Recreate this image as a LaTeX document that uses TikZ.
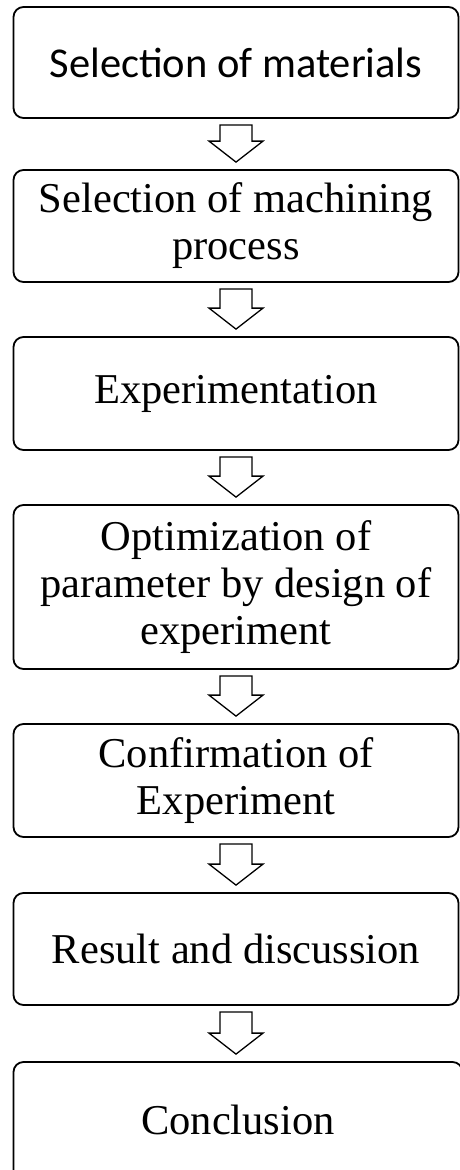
\documentclass[tikz,border=0pt]{standalone}
\usepackage{fontspec}
\setmainfont{Liberation Serif}
\newfontfamily\calibri{Carlito}
\usetikzlibrary{calc}

\tikzset{
  stage/.style={draw, line width=1.8pt, rounded corners=10pt,
    minimum width=445pt, align=center, inner sep=0pt,
    font=\fontsize{42.5}{47}\selectfont},
  hollow/.style={line width=1.3pt, to path={
    let \p1=(\tikztostart), \p2=(\tikztotarget) in
    (\x1-16,\y1) -- (\x1+16,\y1) -- (\x1+16,\y2+21) -- (\x1+27,\y2+21)
    -- (\x1,\y2) -- (\x1-27,\y2+21) -- (\x1-16,\y2+21) -- cycle}}
}

\begin{document}
\begin{tikzpicture}[x=1pt, y=-1pt]
  \useasboundingbox (0,0) rectangle (459,1170);
  \node[stage, minimum height=111pt] (mat)  at (236, 62.5) {\calibri Selection of materials};
  \node[stage, minimum height=112pt] (proc) at (236, 226)  {Selection of machining\\process};
  \node[stage, minimum height=113pt] (expt) at (236, 393.5) {Experimentation};
  \node[stage, minimum height=164pt] (opt)  at (236, 587)  {Optimization of\\parameter by design of\\experiment};
  \node[stage, minimum height=113pt] (conf) at (236, 780.5) {Confirmation of\\Experiment};
  \node[stage, minimum height=112pt] (res)  at (236, 949)  {Result and discussion};
  \node[stage, minimum height=122pt, minimum width=449pt] (conc) at (238, 1123) {\raisebox{6pt}{Conclusion}};
  \draw[hollow] ([yshift=-6pt]mat.south)  to ([yshift=7pt]proc.north);
  \draw[hollow] ([yshift=-6pt]proc.south) to ([yshift=7pt]expt.north);
  \draw[hollow] ([yshift=-6pt]expt.south) to ([yshift=7pt]opt.north);
  \draw[hollow] ([yshift=-6pt]opt.south)  to ([yshift=7pt]conf.north);
  \draw[hollow] ([yshift=-6pt]conf.south) to ([yshift=7pt]res.north);
  \draw[hollow] ([yshift=-6pt]res.south)  to ([yshift=7pt]conc.north);
\end{tikzpicture}
\end{document}
